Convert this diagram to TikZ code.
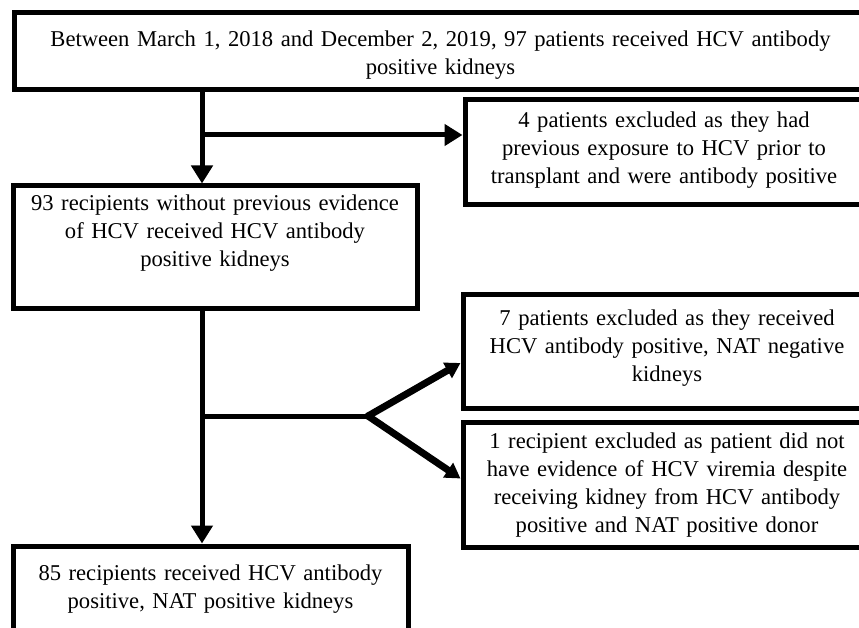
\documentclass[tikz,border=0pt]{standalone}
\usepackage{fontspec}
\setmainfont{Liberation Serif}
\usepackage{xcolor}
\usepackage{tikz}
\usetikzlibrary{calc,arrows.meta}
\definecolor{bg}{HTML}{FFFFFF}
\definecolor{ink}{HTML}{000000}
\tikzset{
  box/.style={draw=ink, line width=5pt, align=center, inner sep=0pt, anchor=base,
    font=\fontsize{22.6}{28}\selectfont},
  link/.style={draw=ink, line width=5pt},
  arr/.style={link, -{Triangle[length=18pt,width=21pt]}},
  slant/.style={draw=ink, line width=7pt, line cap=round, -{Triangle[length=15pt,width=17pt]}},
}

\begin{document}
\begin{tikzpicture}[x=1pt,y=-1pt]
  \useasboundingbox (0,0) rectangle (859,628);
  \fill[bg] (0,0) rectangle (859,628);
  \clip (0,0) rectangle (859,628);

  % boxes, placed by first baseline
  \node[box, text width=853pt, text height=34pt, text depth=43pt] (start) at (440.5,47)
    {Between March 1, 2018 and December 2, 2019, 97 patients received HCV antibody\\positive kidneys};
  \node[box, text width=398pt, text height=28pt, text depth=77pt] (prior) at (664,128)
    {4 patients excluded as they had\\previous exposure to HCV prior to\\transplant and were antibody positive};
  \node[box, text width=404pt, text height=25pt, text depth=97pt] (naive) at (215,211)
    {93 recipients without previous evidence\\of HCV received HCV antibody\\positive kidneys};
  \node[box, text width=408pt, text height=31pt, text depth=83pt] (natneg) at (667,325)
    {7 patients excluded as they received\\HCV antibody positive, NAT negative\\kidneys};
  \node[box, text width=408pt, text height=26pt, text depth=99pt] (noviremia) at (667,448)
    {1 recipient excluded as patient did not\\have evidence of HCV viremia despite\\receiving kidney from HCV antibody\\positive and NAT positive donor};
  \node[box, text width=395pt, text height=34pt, text depth=100pt] (final) at (210.5,580)
    {85 recipients received HCV antibody\\positive, NAT positive kidneys};

  % connectors
  \coordinate (spine) at (202,0);
  \coordinate (split1) at (202,135);
  \coordinate (split2) at (202,416);
  \coordinate (fork) at (368,416);

  \draw[arr] (start.south -| spine) -- (naive.north -| spine);
  \draw[arr] (split1) -- (split1 -| prior.west);
  \draw[arr] (naive.south -| spine) -- (final.north -| spine);
  \draw[link] (split2) -- (fork);
  \draw[slant] (fork) -- ([yshift=-12pt]natneg.west);
  \draw[slant] (fork) -- ([yshift=6pt]noviremia.west);
\end{tikzpicture}
\end{document}
